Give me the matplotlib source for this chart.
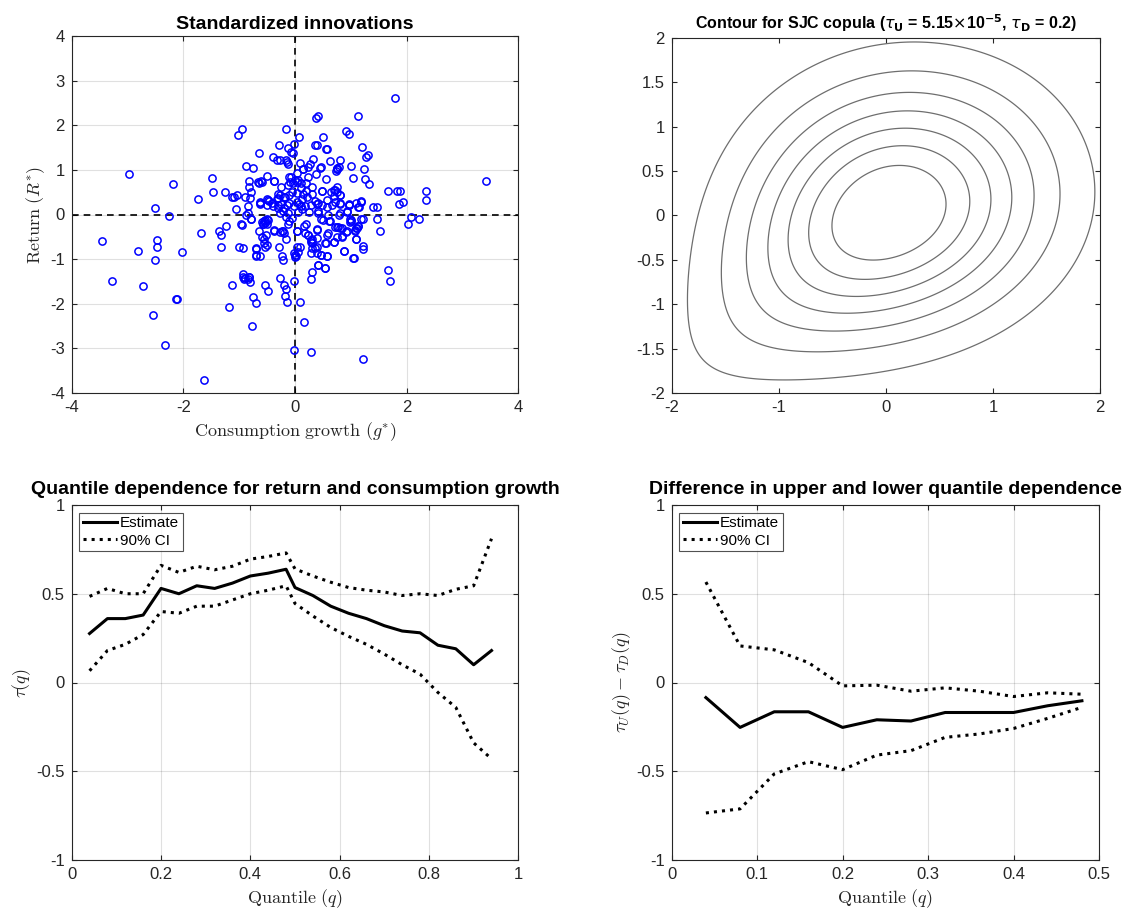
import math
import numpy as np
import matplotlib
matplotlib.use("Agg")
import matplotlib.pyplot as plt
from matplotlib.ticker import FuncFormatter, MultipleLocator

plt.rcParams['font.family'] = ['Liberation Sans', 'DejaVu Sans']
plt.rcParams['mathtext.fontset'] = 'cm'
plt.rcParams['axes.unicode_minus'] = False

# ---------------- data: standardized innovations ----------------
g_star = [
    -3.45, -2.97, -3.27, -2.82, -2.73, -2.51, -2.48, -2.47, -2.51, -2.55, -2.32, -2.25, -2.18, -2.03, -2.13, -2.11,
    -1.63, -1.74, -1.69, -1.49, -1.47, -1.37, -1.32, -1.33, -1.24, -1.25, -1.19, -1.13, -1.13, -1.09, -1.04, -1.06,
    -1.03, -0.95, -1.01, -0.94, -0.95, -0.94, -0.91, -0.89, -0.88, -0.87, -0.85, -0.85, -0.83, -0.83, -0.83, -0.81,
    -0.78, -0.78, -0.76, -0.77, -0.76, -0.70, -0.70, -0.69, -0.64, -0.65, -0.64, -0.63, -0.62, -0.60, -0.54, -0.51,
    -0.48, -0.585, -0.555, -0.52, -0.57, -0.54, -0.51, -0.53, -0.51, -0.47, -0.40, -0.38, -0.37, -0.41, -0.33, -0.29,
    -0.29, -0.26, -0.27, -0.23, -0.22, -0.26, -0.21, -0.16, -0.19, -0.17, -0.18, -0.15, -0.17, -0.12, -0.13, -0.17,
    -0.07, -0.04, -0.02, -0.11, -0.07, -0.125, -0.09, -0.245, -0.27, -0.31, -0.20, -0.10, -0.15, -0.245, -0.33, -0.30,
    -0.27, -0.22, -0.125, -0.16, -0.11, -0.13, -0.05, -0.01, 0.00, -0.01, -0.02, 0.005, 0.04,
    0.08, 0.03, 0.05, 0.04, 0.04, 0.03, 0.09, 0.10, 0.10, 0.09, 0.13, 0.15, 0.16, 0.17, 0.18, 0.20, 0.22, 0.23, 0.24,
    0.27, 0.28, 0.29, 0.29, 0.30, 0.29, 0.30, 0.31, 0.33, 0.36, 0.38, 0.37, 0.41, 0.35, 0.39, 0.39, 0.41, 0.42, 0.42,
    0.45, 0.47, 0.49, 0.50, 0.53, 0.55, 0.55, 0.56, 0.57, 0.58, 0.60, 0.62, 0.63, 0.64, 0.69, 0.70, 0.72, 0.74, 0.76,
    0.75, 0.72, 0.77, 0.79, 0.81, 0.81, 0.81, 0.81, 0.84, 0.84, 0.87, 0.91, 0.96, 0.92, 0.94, 0.97, 0.985, 1.01, 1.04,
    1.01, 1.05, 1.07, 1.10, 1.11, 1.12, 1.12, 1.14, 1.19, 1.20, 1.21, 1.22, 1.22, 1.21, 1.24, 1.26, 1.28, 1.30, 1.33,
    1.40, 1.47, 1.47, 1.53, 1.66, 1.67, 1.71, 1.80, 1.83, 1.88, 1.86, 1.94, 2.02, 2.08, 2.22, 2.35, 2.35, 3.42,
    -0.15, 0.00, -0.03, 0.03, -0.81, -0.63, -0.48, -0.30, -0.18, -0.63, -0.50, -0.40, -0.30, -0.20, -0.10, -0.02,
    0.08, 0.18, 0.28, 0.35, -0.78, -0.97, -0.56, -0.53, -0.50, -0.57, -0.59, -0.48, -0.55, -0.51, -0.37, -0.24,
    -0.19, -0.69, -0.69, 0.01, 0.03, 0.24, 0.09, 0.06, 0.29, 0.31, 0.30, 0.39, 0.39, 0.20, -0.93, -0.89, -0.84,
    -0.83, 0.96, 1.13, 1.19, 0.72, 0.81, 0.66, 0.57, 0.48, 0.39, 0.42, 0.47, 0.51, 0.61, 0.78, 0.93, 1.00, 0.99,
    1.19, 1.12, 1.10, 1.07, 0.75, 0.81, 0.60, 0.57, 0.93, 0.84, 0.75, 0.69, 0.54, 1.10, 0.88, 1.04, 0.40, 0.40,
    0.47, 0.57, 0.42, 0.54, 0.49, 0.69, 0.75, 0.81, 0.96, 1.10, 0.75, 0.76, 0.57, 0.47, 0.23, 0.15, -0.37, -0.61,
    -0.66, 0.10, 0.20, 0.15, 0.25, 0.05, -0.05, 0.30, 0.12,
]
r_star = [
    -0.585, 0.906, -1.48, -0.82, -1.60, 0.153, -0.563, -0.735, -1.025, -2.25, -2.92, -0.026, 0.675, -0.84, -1.89, -1.89,
    -3.71, 0.34, -0.42, 0.82, 0.51, -0.37, -0.47, -0.73, -0.25, 0.51, -2.07, -1.58, 0.40, 0.40, 0.43, 0.12,
    1.79, 1.91, -0.73, -0.76, -0.23, -1.41, -1.45, 0.40, 0.00, 1.09, 0.20, 0.03, 0.76, 0.61, -1.41, -1.52,
    0.50, -0.10, 1.04, -2.49, -1.84, -1.99, -0.76, -0.93, 1.38, 0.71, -0.38, -0.92, 0.26, 0.73, -1.58, 0.86,
    -1.71, -0.51, -0.56, -0.47, -0.22, -0.12, -0.09, -0.72, 0.34, 0.31, 1.29, -0.35, 0.74, 0.25, 1.23, 1.55,
    -0.72, 1.23, -1.42, -0.94, -1.02, -0.40, -0.36, -0.56, -1.59, -1.66, -1.83, -1.97, 1.92, 1.48, 1.14, 1.22,
    1.40, 1.37, 1.59, 0.85, 0.85, 0.65, 0.72, 0.61, 0.44, 0.47, 0.40, 0.44, 0.21, 0.235, 0.35, 0.14,
    0.03, 0.085, 0.04, -0.06, -0.14, -0.21, -0.08, -0.87, -0.96, -1.49, -3.03, -0.90, -0.73,
    1.73, 0.94, 0.77, 0.49, 0.29, -0.37, 1.16, 0.71, 0.18, -1.97, 0.12, 1.03, -2.40, -0.26, -0.42, 0.53, 0.40, -0.46, 0.85,
    1.13, -0.61, -0.87, -1.44, -1.29, -3.08, 0.61, -0.56, 1.24, -0.74, 0.91, 2.17, 2.20, 1.55, 1.55, -0.35, 0.25, 0.07, -1.13,
    1.05, -0.91, 0.52, 1.73, -1.20, 1.47, -0.63, 0.79, -0.94, 0.33, -0.01, -0.14, 1.20, 0.51, -0.61, 0.41, 0.55, 0.97, 1.03,
    0.62, -0.29, -0.29, 1.07, 1.23, 0.44, 0.26, 0.03, -0.31, -0.50, -0.82, 1.87, 1.81, -0.40, 0.07, 0.21, -0.10, 1.09, 0.82,
    -0.15, -0.98, -0.35, -0.55, -0.31, -0.25, 2.20, 0.17, 0.31, 1.52, -0.10, -0.70, -0.78, -3.23, 1.01, 0.80, 1.28, 1.33, 0.68,
    0.16, 0.17, -0.11, -0.38, 0.52, -1.24, -1.48, 2.61, 0.53, 0.53, 0.24, 0.29, -0.21, -0.05, -0.09, 0.52, 0.33, 0.76,
    1.18, 0.77, 0.71, 0.73, 0.38, 0.29, 0.32, 0.36, 0.40, 0.23, 0.22, 0.18, 0.22, 0.15, 0.25, 0.20,
    0.24, 0.20, 0.22, 0.30, -0.11, -0.21, -0.15, -0.20, -0.22, -0.22, -0.17, -0.13, -0.64, -0.68, -0.36, -0.38,
    -0.42, -0.78, -0.91, -0.94, -0.38, -0.46, -0.72, -0.83, -0.57, -0.64, -0.76, -0.72, -0.87, -0.22, -1.33, -1.43, -1.44,
    -1.39, 0.21, 0.17, 0.29, 0.29, 0.23, 0.21, 0.17, 0.21, 0.23, 0.03, -0.09, -0.12, -0.14, -0.01, 0.06, -0.12, -0.16,
    -0.09, -0.26, -0.31, -0.36, -0.29, -0.31, -0.42, -0.46, -0.38, -0.48, -0.50, -0.61, -0.63, -0.55, -0.82, -0.98, -0.33, -0.53,
    -0.91, -0.94, -1.13, -1.20, 0.53, 0.55, 0.51, 0.44, 0.23, 0.25, 1.03, 1.05, 1.46, 1.06, 1.07, 1.01, 0.76, 0.75,
    0.72, 0.60, 0.70, 0.45, 0.05, 0.05, 0.50, 0.45, 0.35,
]

# ---------------- data: SJC copula parameters ----------------
tau_U = 5.15e-5
tau_D = 0.2
contour_levels = [0.025, 0.045, 0.065, 0.085, 0.105, 0.125, 0.145]

# ---------------- data: quantile dependence ----------------
q_lower = [0.04, 0.08, 0.12, 0.16, 0.20, 0.24, 0.28, 0.32, 0.36, 0.40, 0.44, 0.48]
q_upper = [0.50, 0.54, 0.58, 0.62, 0.66, 0.70, 0.74, 0.78, 0.82, 0.86, 0.90, 0.94]
q_all = q_lower + q_upper
qd_est = [0.276, 0.36, 0.36, 0.38, 0.53, 0.50, 0.545, 0.53, 0.56, 0.60, 0.616, 0.638,
          0.535, 0.49, 0.43, 0.39, 0.36, 0.32, 0.29, 0.28, 0.21, 0.19, 0.10, 0.18]
qd_hi = [0.485, 0.53, 0.50, 0.50, 0.66, 0.62, 0.655, 0.635, 0.655, 0.695, 0.71, 0.73,
         0.64, 0.60, 0.565, 0.535, 0.52, 0.51, 0.49, 0.50, 0.49, 0.525, 0.545, 0.81]
qd_lo = [0.066, 0.18, 0.215, 0.27, 0.40, 0.39, 0.43, 0.43, 0.465, 0.50, 0.52, 0.545,
         0.445, 0.375, 0.31, 0.26, 0.215, 0.16, 0.10, 0.047, -0.056, -0.14, -0.34, -0.43]

diff_est = [-0.085, -0.253, -0.165, -0.165, -0.253, -0.21, -0.217, -0.169, -0.169, -0.169, -0.131, -0.103]
diff_hi = [0.566, 0.206, 0.184, 0.112, -0.019, -0.015, -0.049, -0.03, -0.049, -0.079, -0.058, -0.066]
diff_lo = [-0.735, -0.712, -0.515, -0.446, -0.491, -0.409, -0.384, -0.309, -0.29, -0.259, -0.202, -0.14]

# ---------------- styling helpers ----------------
AX_COLOR = '#262626'
fmt = FuncFormatter(lambda v, p: ('%g' % round(v, 6)))


def style_axes(ax, grid=True):
    for s in ax.spines.values():
        s.set_color(AX_COLOR)
        s.set_linewidth(0.8)
    ax.tick_params(direction='in', top=True, right=True, length=3.5, width=0.8,
                   colors=AX_COLOR, labelsize=12, pad=5)
    ax.xaxis.set_major_formatter(fmt)
    ax.yaxis.set_major_formatter(fmt)
    if grid:
        ax.grid(True, color='#000000', alpha=0.12, linewidth=0.8)
        ax.set_axisbelow(True)


W, H = 1148, 914
fig = plt.figure(figsize=(W / 100, H / 100), dpi=100)


def px_axes(left, top, right, bottom):
    return fig.add_axes([left / W, 1 - bottom / H, (right - left) / W, (bottom - top) / H])


TITLE_KW = dict(fontsize=14, fontweight='bold', color='black')
LABEL_KW = dict(fontsize=13, color=AX_COLOR)

# ---- top-left scatter ----
ax1 = px_axes(71.7, 36, 518.3, 393)
ax1.plot(g_star, r_star, 'o', mfc='none', mec='#0000ff', ms=5.2, mew=1.1, zorder=3)
ax1.axhline(0, color='black', ls=(0, (4, 3)), lw=1.2, zorder=2)
ax1.axvline(0, color='black', ls=(0, (4, 3)), lw=1.2, zorder=2)
ax1.set_xlim(-4, 4)
ax1.set_ylim(-4, 4)
ax1.xaxis.set_major_locator(MultipleLocator(2))
ax1.yaxis.set_major_locator(MultipleLocator(1))
style_axes(ax1)
ax1.set_title('Standardized innovations', pad=5, **TITLE_KW)
ax1.set_xlabel(r'$\mathrm{Consumption\ growth\ }(g^{*})$', labelpad=4, **LABEL_KW)
ax1.set_ylabel(r'$\mathrm{Return\ }(R^{*})$', labelpad=2, **LABEL_KW)

# ---- top-right contour ----
_erf = np.vectorize(math.erf)


def norm_cdf(x):
    return 0.5 * (1.0 + _erf(x / math.sqrt(2.0)))


def jc_cdf(u, v, tu, tl):
    k = 1.0 / np.log2(2.0 - tu)
    gm = -1.0 / np.log2(tl)
    a = (1.0 - (1.0 - u) ** k) ** (-gm)
    b = (1.0 - (1.0 - v) ** k) ** (-gm)
    return 1.0 - (1.0 - (a + b - 1.0) ** (-1.0 / gm)) ** (1.0 / k)


def sjc_cdf(u, v, tu, tl):
    return 0.5 * (jc_cdf(u, v, tu, tl) + jc_cdf(1 - u, 1 - v, tl, tu) + u + v - 1.0)


grid_x = np.linspace(-2.6, 2.6, 521)
X, Y = np.meshgrid(grid_x, grid_x)
U = norm_cdf(X)
V = norm_cdf(Y)
F = sjc_cdf(U, V, tau_U, tau_D)
dens = np.gradient(np.gradient(F, grid_x, axis=1), grid_x, axis=0)

ax2 = px_axes(671.7, 37.7, 1100, 393)
ax2.contour(X, Y, dens, levels=contour_levels, colors='#6e6e6e', linewidths=0.9)
ax2.set_xlim(-2, 2)
ax2.set_ylim(-2, 2)
ax2.xaxis.set_major_locator(MultipleLocator(1))
ax2.yaxis.set_major_locator(MultipleLocator(0.5))
style_axes(ax2, grid=False)
ax2.set_title(r'Contour for SJC copula ($\tau_{\mathbf{U}}$ = 5.15$\times$10$^{\mathbf{-5}}$, $\tau_{\mathbf{D}}$ = 0.2)',
              fontsize=11.5, fontweight='bold', color='black', pad=6, math_fontfamily='dejavusans')

# ---- bottom-left quantile dependence ----
ax3 = px_axes(71.7, 505, 518.3, 860)
ax3.plot(q_all, qd_est, color='black', lw=2.2, label='Estimate')
ax3.plot(q_all, qd_hi, color='black', lw=2.2, ls=':', label='90% CI')
ax3.plot(q_all, qd_lo, color='black', lw=2.2, ls=':')
ax3.set_xlim(0, 1)
ax3.set_ylim(-1, 1)
ax3.xaxis.set_major_locator(MultipleLocator(0.2))
ax3.yaxis.set_major_locator(MultipleLocator(0.5))
style_axes(ax3)
ax3.set_title('Quantile dependence for return and consumption growth', pad=8, **TITLE_KW)
ax3.set_xlabel(r'$\mathrm{Quantile\ }(q)$', labelpad=4, **LABEL_KW)
ax3.set_ylabel(r'$\tau(q)$', labelpad=2, **LABEL_KW)
leg = ax3.legend(loc='upper left', fontsize=11, frameon=True, fancybox=False, handlelength=2.2,
                 handletextpad=0.2, borderpad=0.25, labelspacing=0.2, borderaxespad=0.5)
leg.get_frame().set_edgecolor(AX_COLOR)
leg.get_frame().set_linewidth(0.8)

# ---- bottom-right difference ----
ax4 = px_axes(671.7, 505, 1099, 860)
ax4.plot(q_lower, diff_est, color='black', lw=2.2, label='Estimate')
ax4.plot(q_lower, diff_hi, color='black', lw=2.2, ls=':', label='90% CI')
ax4.plot(q_lower, diff_lo, color='black', lw=2.2, ls=':')
ax4.set_xlim(0, 0.5)
ax4.set_ylim(-1, 1)
ax4.xaxis.set_major_locator(MultipleLocator(0.1))
ax4.yaxis.set_major_locator(MultipleLocator(0.5))
style_axes(ax4)
ax4.set_title('Difference in upper and lower quantile dependence', pad=8, **TITLE_KW)
ax4.set_xlabel(r'$\mathrm{Quantile\ }(q)$', labelpad=4, **LABEL_KW)
ax4.set_ylabel(r'$\tau_U(q) - \tau_D(q)$', labelpad=2, **LABEL_KW)
leg = ax4.legend(loc='upper left', fontsize=11, frameon=True, fancybox=False, handlelength=2.2,
                 handletextpad=0.2, borderpad=0.25, labelspacing=0.2, borderaxespad=0.5)
leg.get_frame().set_edgecolor(AX_COLOR)
leg.get_frame().set_linewidth(0.8)

fig.savefig('out.png', dpi=100)
